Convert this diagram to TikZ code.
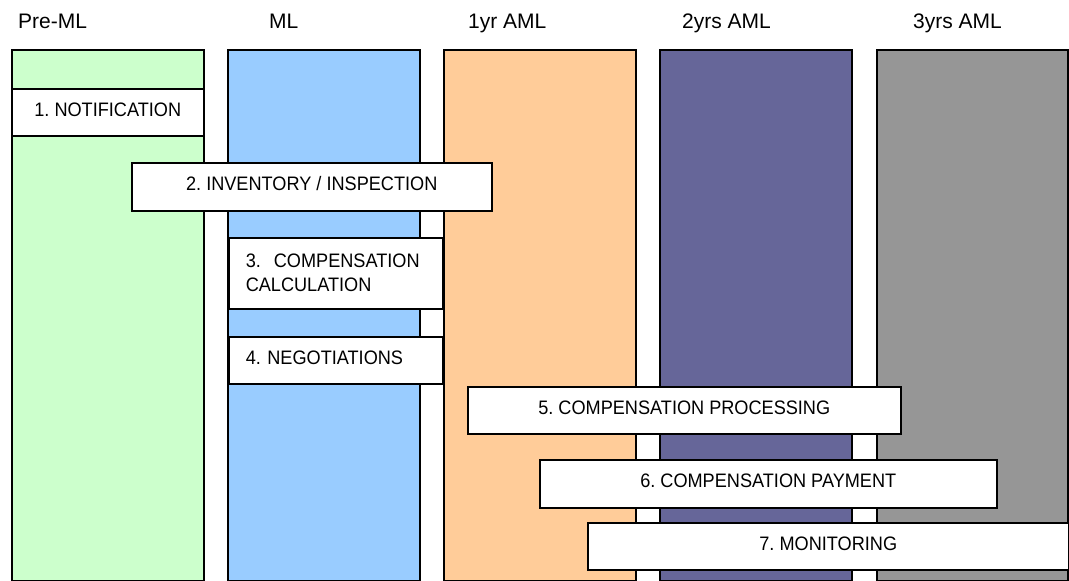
\documentclass[tikz,border=0pt]{standalone}
\usepackage{fontspec}
\setmainfont{Liberation Sans}
\newfontfamily\boxfont[FakeStretch=0.93]{Liberation Sans}
\frenchspacing
\definecolor{cgreen}{HTML}{CCFFCC}
\definecolor{cblue}{HTML}{99CCFF}
\definecolor{corange}{HTML}{FFCC99}
\definecolor{cpurple}{HTML}{666699}
\definecolor{cgrey}{HTML}{969696}
\tikzset{
  col/.style={draw=black, line width=1.5pt, anchor=north west, minimum width=192pt, minimum height=531pt, inner sep=0pt},
  head/.style={anchor=base west, inner sep=0pt, font=\fontsize{21}{24}\selectfont},
  basebox/.style={draw=black, line width=1.5pt, fill=white, anchor=north west, inner sep=0pt, font=\boxfont\fontsize{19.5}{24}\selectfont\frenchspacing},
  stepbox/.style={basebox, align=center, text height=14pt, text depth=6pt},
  leftbox/.style={basebox, align=left, text width=180pt, inner xsep=17pt},
  leftone/.style={leftbox, text height=14pt, text depth=6pt}
}
\begin{document}
\begin{tikzpicture}[x=1pt, y=-1pt]
\useasboundingbox (0,0) rectangle (1069,581);
% columns
\node[col, fill=cgreen]  (c1) at (11,49) {};
\node[col, fill=cblue]   (c2) at (227,49) {};
\node[col, fill=corange] (c3) at (443,49) {};
\node[col, fill=cpurple] (c4) at (659,49) {};
\node[col, fill=cgrey, minimum width=191pt]   (c5) at (876,49) {};
% headers
\node[head] (h1) at (18,28) {Pre-ML};
\node[head] (h2) at (269,28) {ML};
\node[head] (h3) at (468,28) {1yr AML};
\node[head] (h4) at (682,28) {2yrs AML};
\node[head] (h5) at (913,28) {3yrs AML};
% steps
\node[stepbox, minimum width=192pt, minimum height=47pt] (s1) at (11,88) {1. NOTIFICATION};
\node[stepbox, minimum width=360pt, minimum height=48pt] (s2) at (131,162) {2. INVENTORY / INSPECTION};
\node[leftbox, minimum height=71pt] (s3) at (228,237) {3.\ \ COMPENSATION\\CALCULATION};
\node[leftone, minimum height=47pt] (s4) at (228,336) {4. NEGOTIATIONS};
\node[stepbox, minimum width=433pt, minimum height=47pt] (s5) at (467,386) {5. COMPENSATION PROCESSING};
\node[stepbox, minimum width=457pt, minimum height=48pt] (s6) at (539,459) {6. COMPENSATION PAYMENT};
\node[stepbox, minimum width=481pt, minimum height=47pt] (s7) at (587,522) {7. MONITORING};
\end{tikzpicture}
\end{document}
